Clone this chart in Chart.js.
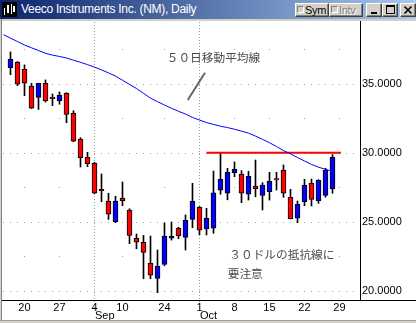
<!DOCTYPE html>
<html>
<head>
<meta charset="utf-8">
<script src="https://cdn.jsdelivr.net/npm/chart.js@4/dist/chart.umd.min.js"></script>
<style>
  body { margin: 0; width: 416px; height: 323px; overflow: hidden; background: #d4d0c8; position: relative; font-family: "Liberation Sans", Arial, sans-serif; }
  #title { position: absolute; left: 0; top: 0; width: 416px; height: 19px; background: linear-gradient(to right, #0a246a, #a6caf0); }
  #icon { position: absolute; left: 2px; top: 2px; }
  #ttext { position: absolute; left: 21px; top: 2px; color: #fff; font-size: 12px; line-height: 15px; letter-spacing: -0.3px; white-space: nowrap; }
  .btn { position: absolute; top: 3px; height: 14px; box-sizing: border-box; background: #d4d0c8; border: 1px solid; border-color: #fff #404040 #404040 #fff; box-shadow: inset -1px -1px #808080; font-size: 11px; line-height: 12px; letter-spacing: -0.3px; color: #000; white-space: nowrap; overflow: hidden; }
  .btn .chk { display: inline-block; width: 5px; height: 5px; margin: 2px 1px 0 1px; vertical-align: top; border: 1px solid; border-color: #808080 #fff #fff #808080; }
  .btn.dis { color: #808080; text-shadow: 1px 1px #fff; }
  .btn svg { position: absolute; left: 0; top: 0; }
  #plot { position: absolute; left: 2px; top: 21px; width: 414px; height: 302px; background: #fff; }
  #edge { position: absolute; left: 1px; top: 19px; width: 1px; height: 301px; background: #808080; }
  #bottom { position: absolute; left: 0; top: 320px; width: 416px; height: 3px; background: #d4d0c8; border-top: 1px solid #a0a0a0; box-sizing: border-box; }
</style>
</head>
<body>
<div id="title">
  <svg id="icon" width="15" height="15">
    <rect width="15" height="15" fill="#000"/>
    <rect x="2" y="6" width="1" height="7" fill="#fff"/>
    <rect x="5" y="3" width="2" height="8" fill="#fff"/>
    <rect x="9" y="2" width="1" height="10" fill="#fff"/>
    <rect x="11" y="4" width="2" height="6" fill="#fff"/>
  </svg>
  <span id="ttext">Veeco Instruments Inc. (NM), Daily</span>
  <div class="btn" style="left:295px;width:34px"><span class="chk"></span>Sym</div>
  <div class="btn dis" style="left:329px;width:34px"><span class="chk"></span>Intv</div>
  <div class="btn" style="left:366px;width:16px"><svg width="14" height="12"><rect x="4" y="8" width="6" height="2" fill="#000"/></svg></div>
  <div class="btn" style="left:382px;width:16px"><svg width="14" height="12"><rect x="3.5" y="1.5" width="8" height="8" fill="none" stroke="#000"/><rect x="3" y="1" width="9" height="2" fill="#000"/></svg></div>
  <div class="btn" style="left:400px;width:16px"><svg width="14" height="12"><path d="M3.5 2.5 L10.5 9.5 M10.5 2.5 L3.5 9.5" stroke="#000" stroke-width="1.6"/></svg></div>
</div>
<div id="edge"></div>
<div id="plot"><canvas id="chart" width="414" height="302"></canvas></div>
<div id="bottom"></div>
<script>
// trading days, Aug 16 - Oct 26 (market closed Sep 11-14)
const dates = ['08/16','08/17','08/20','08/21','08/22','08/23','08/24','08/27','08/28','08/29','08/30','08/31',
  '09/04','09/05','09/06','09/07','09/10','09/17','09/18','09/19','09/20','09/21','09/24','09/25','09/26','09/27','09/28',
  '10/01','10/02','10/03','10/04','10/05','10/08','10/09','10/10','10/11','10/12','10/15','10/16','10/17','10/18','10/19',
  '10/22','10/23','10/24','10/25','10/26'];

const opens  = [36.16,36.55,36.04,34.83,34.01,35.03,34.02,33.77,34.30,32.86,30.99,29.69,29.23,27.35,26.50,25.00,26.72,25.85,23.80,23.51,21.99,20.90,21.91,23.80,24.52,23.87,25.17,26.04,24.47,24.54,27.28,27.06,28.55,28.46,26.99,27.59,26.91,27.17,28.12,28.72,26.77,25.25,26.45,27.80,26.52,26.91,27.37];
const highs  = [37.30,36.60,36.36,35.03,35.03,35.27,34.25,34.40,34.35,33.04,31.09,30.03,29.30,28.46,27.06,26.84,27.88,25.94,24.11,24.01,23.96,22.95,24.91,24.98,24.60,25.49,27.78,26.10,25.97,28.67,30.00,28.87,29.33,28.70,28.65,29.47,27.83,28.58,28.58,29.11,27.35,26.50,28.07,28.09,28.05,28.87,29.86];
const lows   = [35.65,34.86,34.13,33.20,33.14,33.67,33.41,33.51,32.17,30.80,28.96,28.99,27.02,26.45,25.17,24.93,26.16,23.41,23.04,20.87,20.87,19.86,21.81,23.67,23.77,22.95,24.57,24.06,24.04,24.16,26.99,26.59,28.26,26.38,26.57,26.81,25.85,26.57,27.30,26.77,25.20,24.93,26.16,26.14,26.33,26.77,27.06];
const closes = [36.79,34.96,35.03,33.22,35.03,33.77,33.92,34.16,32.78,30.83,29.64,29.20,27.06,27.25,25.54,26.50,26.52,24.01,23.51,22.78,21.12,21.79,23.96,23.96,23.99,25.10,26.48,24.38,25.25,27.10,28.07,28.58,28.80,27.06,28.29,27.39,27.66,27.93,28.02,27.06,25.22,26.26,27.64,26.62,28.00,28.72,29.67];

// 50-day moving average (first value is the day before Aug 16)
const ma50 = [38.55,38.30,38.05,37.80,37.60,37.40,37.20,37.07,36.97,36.86,36.70,36.55,36.38,36.20,36.00,35.78,35.55,35.25,34.95,34.65,34.30,33.95,33.70,33.45,33.22,33.00,32.80,32.55,32.37,32.18,32.05,31.92,31.82,31.70,31.56,31.42,31.20,30.97,30.72,30.45,30.15,29.92,29.65,29.40,29.15,28.95,28.80,28.65];

// $30 resistance line (day index range)
const resistX = [28.0, 47.2];
const resistLevel = 30;

// axis ticks
const tickPos = [2, 7, 12, 16, 22, 27, 32, 37, 42, 47];
const tickLabels = ['20', '27', '4', '10', '24', '1', '8', '15', '22', '29'];
const monthPos = [12, 27];
const monthLabels = ['Sep', 'Oct'];
const yTicks = [20, 22.5, 25, 27.5, 30, 32.5, 35, 37.5];

const bodies = dates.map((d, i) => ({ x: i, y: [opens[i], closes[i]] }));
const wicks = dates.map((d, i) => ({ x: i, y: [lows[i], highs[i]] }));
const bodyColors = dates.map((d, i) => closes[i] < opens[i] ? '#ff0000' : '#0000ff');
const maPoints = ma50.map((v, i) => ({ x: i - 1, y: v }));
const resistPoints = resistX.map(x => ({ x: x, y: resistLevel }));

const labelFont = { family: '"Liberation Sans", Arial, sans-serif', size: 11 };

// dotted grid behind everything
const gridPlugin = {
  id: 'dotGrid',
  beforeDraw(chart) {
    const { ctx, chartArea: a, scales: { x, y } } = chart;
    ctx.save();
    ctx.fillStyle = '#a0a0a0';
    yTicks.forEach(v => {
      const py = Math.round(y.getPixelForValue(v));
      if (v % 5 === 0) {
        for (let i = -1; i <= 49; i++) ctx.fillRect(Math.floor(x.getPixelForValue(i)), py, 1, 1);
      } else {
        tickPos.forEach(t => ctx.fillRect(Math.floor(x.getPixelForValue(t)), py, 1, 1));
      }
    });
    monthPos.forEach(m => {
      const px = Math.floor(x.getPixelForValue(m));
      for (let py = a.top + 1; py < a.bottom + 12; py += 3) ctx.fillRect(px, py, 1, 1);
    });
    ctx.restore();
  },
  afterDraw(chart) {
    const { ctx, chartArea: a, scales: { x } } = chart;
    ctx.save();
    // axis lines
    ctx.fillStyle = '#000';
    ctx.fillRect(0, a.bottom, chart.width, 1);
    ctx.fillRect(a.right, 0, 1, a.bottom);
    // month names
    ctx.font = '11px "Liberation Sans", Arial, sans-serif';
    ctx.textAlign = 'left';
    ctx.textBaseline = 'alphabetic';
    monthPos.forEach((m, i) => ctx.fillText(monthLabels[i], Math.floor(x.getPixelForValue(m)) + 1, a.bottom + 18.5));
    // notes
    ctx.fillStyle = '#4a4a4a';
    ctx.font = '11.7px "Noto Sans CJK JP", sans-serif';
    ctx.textBaseline = 'middle';
    ctx.fillText('５０日移動平均線', 164.7, 37);
    ctx.fillText('３０ドルの抵抗線に', 227.3, 233.5);
    ctx.fillText('要注意', 225.7, 253);
    ctx.strokeStyle = '#666';
    ctx.lineWidth = 2;
    ctx.beginPath();
    ctx.moveTo(203, 51.7);
    ctx.lineTo(185.7, 79);
    ctx.stroke();
    ctx.restore();
  }
};

function noPad(s) {
  s.paddingTop = 0;
  s.paddingBottom = 0;
  s.paddingLeft = 0;
  s.paddingRight = 0;
}

new Chart(document.getElementById('chart'), {
  type: 'bar',
  data: {
    datasets: [
      { type: 'line', data: maPoints, borderColor: '#0000ff', borderWidth: 1, pointRadius: 0, tension: 0, order: 0 },
      { type: 'line', data: resistPoints, borderColor: '#ff0000', borderWidth: 2, pointRadius: 0, order: 0 },
      { data: bodies, backgroundColor: bodyColors, borderColor: '#000', borderWidth: 1, borderSkipped: false,
        barThickness: 5, grouped: false, order: 1 },
      { data: wicks, backgroundColor: '#000', borderWidth: 0, barThickness: 1, grouped: false, order: 2 }
    ]
  },
  options: {
    responsive: false,
    animation: false,
    events: [],
    layout: { padding: { left: 1, top: 0, right: 0, bottom: 0 } },
    plugins: { legend: { display: false }, tooltip: { enabled: false } },
    scales: {
      x: {
        type: 'linear', min: -1.07, max: 49.93, offset: false, bounds: 'data',
        grid: { display: false, drawTicks: false }, border: { display: false },
        afterBuildTicks: s => { s.ticks = tickPos.map(v => ({ value: v })); },
        afterFit: s => { s.height = 23; noPad(s); },
        ticks: { autoSkip: false, maxRotation: 0, padding: 1, color: '#000', font: labelFont,
          callback: v => tickLabels[tickPos.indexOf(v)] }
      },
      y: {
        position: 'right', min: 19.33, max: 39.54, bounds: 'data',
        grid: { display: false, drawTicks: false }, border: { display: false },
        afterBuildTicks: s => { s.ticks = yTicks.map(v => ({ value: v })); },
        afterFit: s => { s.width = 56; noPad(s); },
        ticks: { padding: 2, color: '#000', font: labelFont,
          callback: v => v % 5 === 0 ? v.toFixed(4) : '' }
      }
    }
  },
  plugins: [gridPlugin]
});
</script>
</body>
</html>
